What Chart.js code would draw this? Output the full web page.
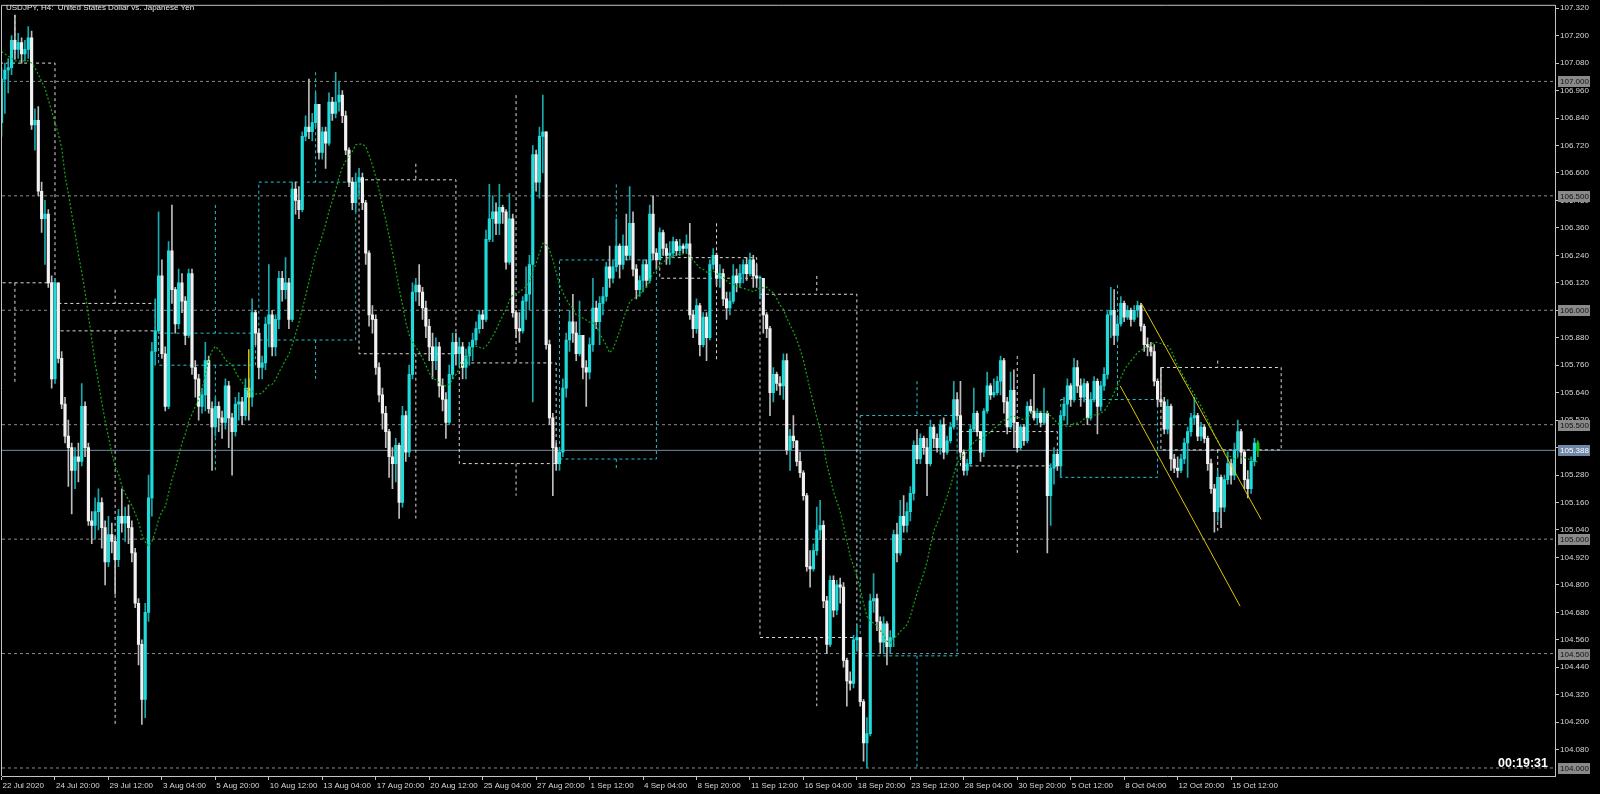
<!DOCTYPE html>
<html><head><meta charset="utf-8">
<script src="https://cdn.jsdelivr.net/npm/chart.js@4.4.0/dist/chart.umd.min.js"></script>
<style>html,body{margin:0;padding:0;background:#000;}canvas{display:block;}</style>
</head><body>
<canvas id="c" width="1600" height="794"></canvas>
<script>
// ---------- DATA (H4 candles) ----------
const firstOpen = 106.82;
const closes = [
107.01,107.05,107.06,107.18,107.14,107.17,107.12,107.14,107.19,106.81,
106.83,106.52,106.40,106.42,106.12,105.70,106.12,105.79,105.59,105.45,
105.40,105.30,105.36,105.34,105.58,105.40,105.08,105.06,105.12,105.16,
105.05,104.90,105.02,104.99,104.91,105.10,105.07,105.10,105.05,104.94,
104.72,104.54,104.30,104.68,105.18,105.82,105.91,106.15,105.81,105.58,
106.26,106.09,105.94,106.12,106.04,105.89,106.16,105.75,105.70,105.58,
105.63,105.78,105.57,105.49,105.58,105.53,105.51,105.67,105.53,105.47,
105.59,105.60,105.54,105.66,105.62,105.99,105.90,105.75,105.77,105.94,
105.98,105.84,105.96,106.14,106.09,106.12,105.96,106.53,106.48,106.44,
106.76,106.80,106.78,106.82,106.90,106.69,106.78,106.73,106.91,106.86,
106.91,106.94,106.85,106.70,106.56,106.47,106.56,106.58,106.47,106.25,
105.98,105.96,105.75,105.63,105.55,105.47,105.36,105.33,105.41,105.16,
105.54,105.38,105.72,106.08,106.11,106.08,106.01,105.93,105.84,105.78,
105.84,105.67,105.61,105.51,105.72,105.86,105.81,105.84,105.75,105.80,
105.84,105.87,105.92,105.98,105.96,106.31,106.40,106.43,106.38,106.45,
106.43,106.21,106.40,105.99,105.92,105.91,106.04,106.07,106.20,106.68,
106.56,106.76,106.78,105.85,105.53,105.40,105.33,105.38,105.66,105.87,
105.95,105.90,105.81,105.89,105.75,105.73,105.85,106.01,105.95,106.03,
106.06,106.19,106.14,106.19,106.28,106.20,106.28,106.24,106.38,106.18,
106.09,106.13,106.20,106.13,106.42,106.25,106.22,106.34,106.27,106.24,
106.25,106.30,106.26,106.28,106.27,106.29,105.98,105.92,106.02,105.85,
105.97,105.88,106.20,106.24,106.14,106.16,106.05,106.01,106.04,106.15,
106.12,106.16,106.20,106.16,106.22,106.15,106.14,106.14,105.98,105.92,
105.64,105.72,105.68,105.67,105.78,105.39,105.45,105.43,105.34,105.29,
105.19,104.88,104.87,104.95,105.04,105.06,104.73,104.54,104.82,104.69,
104.80,104.79,104.47,104.38,104.37,104.56,104.57,104.29,104.11,104.15,
104.73,104.74,104.64,104.55,104.63,104.53,104.57,105.02,104.94,105.10,
105.06,105.12,105.20,105.41,105.35,105.44,105.40,105.33,105.49,105.44,
105.40,105.50,105.38,105.43,105.49,105.61,105.54,105.38,105.30,105.33,
105.48,105.55,105.47,105.38,105.56,105.67,105.63,105.64,105.69,105.78,
105.60,105.49,105.65,105.51,105.40,105.49,105.43,105.58,105.56,105.53,
105.55,105.51,105.55,105.19,105.31,105.37,105.32,105.54,105.59,105.67,
105.61,105.75,105.67,105.62,105.68,105.53,105.61,105.69,105.58,105.67,
105.72,105.98,106.00,105.89,105.94,106.03,105.97,106.00,105.96,106.00,
106.02,105.93,105.85,105.84,105.82,105.69,105.61,105.60,105.48,105.58,
105.35,105.31,105.30,105.35,105.42,105.47,105.53,105.54,105.45,105.49,
105.44,105.33,105.22,105.12,105.27,105.14,105.26,105.33,105.28,105.39,
105.47,105.38,105.26,105.22,105.34,105.42,105.388
];
const highs = [
107.06,107.08,107.10,107.20,107.29,107.21,107.19,107.18,107.24,107.22,
106.88,106.89,106.56,106.48,106.44,106.15,106.14,106.09,105.82,105.62,
105.52,105.42,105.40,105.42,105.68,105.60,105.42,105.12,105.18,105.22,
105.18,105.08,105.10,105.07,105.01,105.13,105.22,105.14,105.15,105.08,
104.96,104.74,104.56,104.72,105.28,105.86,106.05,106.43,106.22,105.84,
106.30,106.46,106.10,106.18,106.16,106.06,106.18,106.18,105.78,105.72,
105.66,105.86,105.80,105.60,105.62,105.60,105.56,105.70,105.69,105.55,
105.62,105.64,105.62,105.70,105.70,106.05,106.00,105.92,105.80,105.97,
106.20,106.00,105.98,106.17,106.17,106.23,106.14,106.56,106.56,106.54,
106.78,106.85,107.01,106.86,106.95,106.90,106.80,106.80,106.95,106.93,
107.04,107.00,106.96,106.87,106.71,106.58,106.60,106.62,106.60,106.48,
106.26,106.02,105.98,105.77,105.66,105.58,105.48,105.40,105.44,105.42,
105.58,105.56,105.76,106.12,106.14,106.20,106.10,106.04,105.96,105.90,
105.88,105.86,105.70,105.64,105.76,105.90,105.90,105.88,105.86,105.83,
105.86,105.90,105.95,106.00,106.00,106.35,106.55,106.50,106.47,106.55,
106.46,106.44,106.51,106.42,106.00,105.99,106.06,106.19,106.24,106.72,
106.70,106.80,106.94,106.73,105.87,105.55,105.42,105.40,105.70,105.90,
106.00,106.07,105.95,106.04,105.86,105.78,105.88,106.14,106.04,106.06,
106.10,106.21,106.28,106.22,106.40,106.29,106.33,106.42,106.54,106.43,
106.20,106.15,106.22,106.22,106.46,106.50,106.27,106.36,106.35,106.29,
106.30,106.32,106.31,106.31,106.29,106.33,106.38,106.00,106.05,106.03,
105.99,105.99,106.22,106.27,106.25,106.20,106.18,106.08,106.08,106.20,
106.18,106.20,106.22,106.23,106.25,106.24,106.20,106.15,106.14,105.99,
105.93,105.75,105.73,105.71,105.81,105.81,105.48,105.54,105.42,105.38,
105.30,105.20,104.95,104.98,105.14,105.17,105.08,104.75,104.84,104.84,
104.82,104.83,104.81,104.48,104.42,104.58,104.62,104.49,104.30,104.22,
104.76,104.85,104.76,104.66,104.66,104.64,104.60,105.04,105.07,105.17,
105.19,105.16,105.23,105.43,105.48,105.46,105.45,105.44,105.52,105.50,
105.46,105.52,105.53,105.45,105.51,105.69,105.64,105.69,105.39,105.35,
105.50,105.66,105.56,105.47,105.57,105.73,105.68,105.70,105.71,105.80,
105.79,105.62,105.73,105.74,105.51,105.50,105.50,105.60,105.61,105.72,
105.57,105.56,105.66,105.56,105.33,105.40,105.38,105.56,105.62,105.70,
105.68,105.79,105.78,105.70,105.70,105.69,105.64,105.71,105.70,105.69,
105.75,106.00,106.10,106.09,105.97,106.06,106.04,106.02,106.01,106.02,
106.04,106.03,105.94,105.88,105.86,105.85,105.70,105.75,105.62,105.61,
105.59,105.37,105.36,105.37,105.44,105.49,105.55,105.62,105.55,105.51,
105.50,105.45,105.35,105.24,105.30,105.28,105.28,105.38,105.35,105.42,
105.52,105.48,105.39,105.30,105.36,105.44,105.43
];
const lows = [
106.76,106.86,106.95,107.03,107.10,107.10,107.08,107.09,107.10,106.79,
106.70,106.50,106.34,106.20,106.10,105.66,105.68,105.77,105.57,105.42,
105.23,105.11,105.22,105.25,105.32,105.36,105.06,104.98,105.00,105.04,
104.96,104.80,104.88,104.94,104.76,104.88,105.03,104.99,104.98,104.90,
104.70,104.45,104.19,104.22,104.64,105.10,105.76,105.90,105.79,105.56,
105.57,106.03,105.90,105.92,105.99,105.85,105.88,105.72,105.62,105.52,
105.55,105.56,105.55,105.30,105.45,105.47,105.44,105.48,105.40,105.28,
105.45,105.52,105.50,105.52,105.52,105.58,105.85,105.70,105.70,105.74,
105.84,105.80,105.80,105.92,106.04,106.05,105.92,105.95,106.42,106.40,
106.43,106.74,106.75,106.74,106.80,106.66,106.66,106.62,106.72,106.83,
106.84,106.87,106.82,106.68,106.54,106.44,106.43,106.50,106.44,106.20,
105.93,105.90,105.72,105.60,105.48,105.40,105.27,105.22,105.25,105.09,
105.14,105.34,105.36,105.70,106.04,106.02,105.96,105.88,105.78,105.70,
105.74,105.62,105.56,105.44,105.50,105.70,105.76,105.76,105.70,105.70,
105.76,105.78,105.85,105.90,105.92,105.95,106.30,106.30,106.33,106.33,
106.38,106.18,106.20,105.97,105.88,105.86,105.90,105.96,106.00,105.60,
106.52,106.49,106.60,105.83,105.50,105.19,105.30,105.30,105.36,105.62,
105.82,105.86,105.78,105.80,105.70,105.58,105.70,105.82,105.92,105.85,
105.98,106.04,106.10,106.12,106.17,106.14,106.18,106.22,106.22,106.15,
106.05,106.06,106.08,106.10,106.12,106.22,106.18,106.22,106.24,106.20,
106.20,106.23,106.24,106.24,106.25,106.25,105.96,105.88,105.90,105.80,
105.84,105.78,105.87,106.18,106.11,106.10,106.02,105.96,105.98,106.03,
106.08,106.10,106.12,106.13,106.15,106.10,106.10,106.05,105.90,105.88,
105.54,105.60,105.65,105.63,105.61,105.37,105.30,105.40,105.32,105.27,
105.17,104.86,104.79,104.86,104.93,105.00,104.70,104.50,104.53,104.66,
104.67,104.72,104.44,104.27,104.34,104.35,104.51,104.27,104.03,104.00,
104.14,104.68,104.60,104.50,104.50,104.45,104.50,104.53,104.90,104.93,
105.03,105.03,105.08,105.17,105.33,105.33,105.37,105.19,105.32,105.40,
105.38,105.37,105.35,105.37,105.42,105.48,105.52,105.36,105.28,105.28,
105.32,105.47,105.45,105.34,105.36,105.55,105.61,105.62,105.63,105.63,
105.55,105.46,105.48,105.40,105.38,105.39,105.41,105.42,105.55,105.52,
105.50,105.49,105.50,104.94,105.06,105.24,105.30,105.27,105.52,105.50,
105.58,105.60,105.64,105.58,105.60,105.50,105.52,105.60,105.46,105.56,
105.65,105.70,105.88,105.85,105.87,105.93,105.95,105.96,105.93,105.95,
105.97,105.91,105.82,105.80,105.80,105.67,105.58,105.58,105.46,105.46,
105.30,105.29,105.27,105.29,105.33,105.27,105.45,105.50,105.43,105.43,
105.42,105.30,105.20,105.03,105.08,105.05,105.12,105.24,105.24,105.26,
105.36,105.33,105.22,105.18,105.20,105.32,105.36
];

// weekly candles overlay (dotted boxes), bar indices + prices
const weekStart = [-13, 17, 47, 77, 107, 137, 167, 197, 227, 257, 287, 317, 347];
const weekEnd   = [ 16, 46, 76, 106, 136, 166, 196, 226, 256, 286, 316, 346, 383];
const weekOpen  = [107.08,106.03,105.76,105.87,106.57,105.77,105.35,106.23,106.07,104.49,105.47,105.27,105.75];
const weekClose = [106.12,105.91,105.90,106.56,105.81,105.33,106.22,106.14,104.57,105.54,105.32,105.61,105.39];
const weekHigh  = [107.29,106.09,106.46,107.04,106.64,106.94,106.55,106.38,106.15,105.69,105.80,106.11,105.78];
const weekLow   = [105.68,104.19,105.29,105.70,105.09,105.19,105.30,105.78,104.27,104.00,104.94,105.27,105.03];

const maLead = [107.13,107.12,107.11,107.10,107.09,107.09,107.09,107.09,107.09,107.08,107.06,107.03,107.00,106.97,106.92,106.87,106.82,106.77,106.71];
const maPeriod = 20;

const xLabels = ['22 Jul 2020','24 Jul 20:00','29 Jul 12:00','3 Aug 04:00','5 Aug 20:00','10 Aug 12:00','13 Aug 04:00','17 Aug 20:00','20 Aug 12:00','25 Aug 04:00','27 Aug 20:00','1 Sep 12:00','4 Sep 04:00','8 Sep 20:00','11 Sep 12:00','16 Sep 04:00','18 Sep 20:00','23 Sep 12:00','28 Sep 04:00','30 Sep 20:00','5 Oct 12:00','8 Oct 04:00','12 Oct 20:00','15 Oct 12:00'];
const xLabelIndex = [0,16,32,48,64,80,96,112,128,144,160,176,192,208,224,240,256,272,288,304,320,336,352,368];
const tickPrices = [107.32,107.20,107.08,106.96,106.84,106.72,106.60,106.48,106.36,106.24,106.12,106.00,105.88,105.76,105.64,105.52,105.40,105.28,105.16,105.04,104.92,104.80,104.68,104.56,104.44,104.32,104.20,104.08];
const levels = [107.0,106.5,106.0,105.5,105.0,104.5,104.0];
const bidPrice = 105.388;
const channelUpper = [{x:341.1,y:106.032},{x:377.0,y:105.086}];
const channelLower = [{x:334.8,y:105.670},{x:370.7,y:104.707}];
const markerSegment = [{x:74,y:105.55},{x:74,y:105.83}];
const titleText = 'USDJPY, H4:  United States Dollar vs. Japanese Yen';
const timerText = '00:19:31';

// ---------- BUILD ----------
const XMIN = 0.138, XMAX = 464.95, YMIN = 103.965, YMAX = 107.3304;
const N = closes.length;
const opens = closes.map((c,i)=> i===0 ? firstOpen : closes[i-1]);
const BULL='#1fdcdc', BEAR='#f2f2f2', BULLW='#1aa9ad', BEARW='#bdbdbd', LAST='#12c012';
const bull = i => closes[i] >= opens[i];
const bodyData = closes.map((c,i)=>({x:i, y:[opens[i], c]}));
const wickData = closes.map((c,i)=>({x:i, y:[Math.min(lows[i],opens[i],c), Math.max(highs[i],opens[i],c)]}));
const bodyColors = closes.map((c,i)=> i===N-1 ? LAST : (bull(i)?BULL:BEAR));
const wickColors = closes.map((c,i)=> i===N-1 ? LAST : (bull(i)?BULLW:BEARW));

const maData = closes.map((c,i)=>{
  if (i < maPeriod-1) return {x:i, y:maLead[i]};
  let s=0; for(let k=i-maPeriod+1;k<=i;k++) s+=closes[k];
  return {x:i, y:s/maPeriod};
});

function weekPath(wantBull){
  const pts=[];
  weekStart.forEach((s,k)=>{
    const o=weekOpen[k], c=weekClose[k];
    if ((c>=o)!==wantBull) return;
    const top=Math.max(o,c), bot=Math.min(o,c), e=weekEnd[k], w=s+17;
    pts.push({x:s,y:top},{x:e,y:top},{x:e,y:bot},{x:s,y:bot},{x:s,y:top},{x:s,y:null});
    if (weekHigh[k]>top) pts.push({x:w,y:weekHigh[k]},{x:w,y:top},{x:w,y:null});
    if (weekLow[k]<bot) pts.push({x:w,y:bot},{x:w,y:weekLow[k]},{x:w,y:null});
  });
  return pts;
}
const levelPts=[];
levels.forEach(l=>levelPts.push({x:XMIN,y:l},{x:XMAX,y:l},{x:XMAX,y:null}));

const FONT='"Liberation Sans", Arial, sans-serif';
const AXC='#c4c4c4';

const lineDs = (data,color,dash,order,width)=>({type:'line',data,borderColor:color,borderWidth:width||1,borderDash:dash,pointRadius:0,tension:0,spanGaps:false,order,fill:false});

const deco = {
  id:'deco',
  beforeDraw(chart){
    const ctx=chart.ctx; ctx.save(); ctx.fillStyle='#000'; ctx.fillRect(0,0,chart.width,chart.height); ctx.restore();
  },
  afterDraw(chart){
    const ctx=chart.ctx, a=chart.chartArea, y=chart.scales.y;
    ctx.save();
    ctx.strokeStyle=AXC; ctx.lineWidth=1;
    ctx.beginPath(); ctx.moveTo(a.left-0.5,a.bottom); ctx.lineTo(a.left-0.5,a.top-0.5); ctx.lineTo(a.right,a.top-0.5); ctx.stroke();
    ctx.font='8px '+FONT; ctx.textBaseline='middle'; ctx.textAlign='left';
    levels.forEach(l=>{
      const py=Math.round(y.getPixelForValue(l));
      ctx.fillStyle='#8a8a8a'; ctx.fillRect(a.right+3,py-5,32,11);
      ctx.fillStyle='#111'; ctx.fillText(l.toFixed(3),a.right+5,py+0.5);
    });
    const pb=Math.round(y.getPixelForValue(bidPrice));
    ctx.fillStyle='#7088a8'; ctx.fillRect(a.right+3,pb-5,32,11);
    ctx.fillStyle='#fff'; ctx.fillText(bidPrice.toFixed(3),a.right+5,pb+0.5);
    ctx.fillStyle='#e8e8e8'; ctx.font='8px '+FONT;
    ctx.fillText(titleText,6,8);
    ctx.font='bold 12.5px '+FONT; ctx.textAlign='right'; ctx.fillStyle='#fff';
    ctx.fillText(timerText,a.right-7,a.bottom-12);
    ctx.restore();
  }
};

new Chart(document.getElementById('c'),{
  type:'bar',
  data:{datasets:[
    lineDs(levelPts,'#8a8a8a',[3,3],20),
    lineDs([{x:XMIN,y:bidPrice},{x:XMAX,y:bidPrice}],'#7a8ba3',[],19),
    lineDs(weekPath(false),'#dcdcdc',[3,3],18),
    lineDs(weekPath(true),'#1fc4d4',[3,3],17),
    {type:'bar',data:wickData,backgroundColor:wickColors,borderWidth:0,barThickness:1,grouped:false,order:6},
    {type:'bar',data:bodyData,backgroundColor:bodyColors,borderWidth:0,barThickness:2.5,grouped:false,minBarLength:1,order:5},
    lineDs(maData,'#14a814',[2,2],2,1.2),
    lineDs(channelUpper,'#e0c400',[],1),
    lineDs(channelLower,'#e0c400',[],1),
    lineDs(markerSegment,'#e0c400',[],1,1.5)
  ]},
  options:{
    responsive:false, animation:false, devicePixelRatio:1,
    layout:{padding:{left:2,top:2,right:0,bottom:0}},
    plugins:{legend:{display:false},tooltip:{enabled:false},title:{display:false}},
    scales:{
      x:{type:'linear',min:XMIN,max:XMAX,offset:false,
        grid:{display:true,drawOnChartArea:false,drawTicks:true,tickLength:4,color:AXC,offset:false},
        border:{display:true,color:AXC},
        afterBuildTicks:s=>{s.ticks=xLabelIndex.map(v=>({value:v}));},
        afterFit:s=>{s.height=18;},
        ticks:{autoSkip:false,maxRotation:0,minRotation:0,align:'start',labelOffset:1,padding:1,color:'#d8d8d8',font:{family:FONT,size:8},
          callback:(v,idx)=>xLabels[idx]}
      },
      y:{type:'linear',position:'right',min:YMIN,max:YMAX,
        grid:{display:true,drawOnChartArea:false,drawTicks:true,tickLength:4,color:AXC},
        border:{display:true,color:AXC},
        afterBuildTicks:s=>{s.ticks=tickPrices.map(v=>({value:v}));},
        afterFit:s=>{s.width=45;},
        ticks:{autoSkip:false,padding:1,color:'#d8d8d8',font:{family:FONT,size:8},callback:v=>Number(v).toFixed(3)}
      }
    }
  },
  plugins:[deco]
});
</script>
</body></html>
